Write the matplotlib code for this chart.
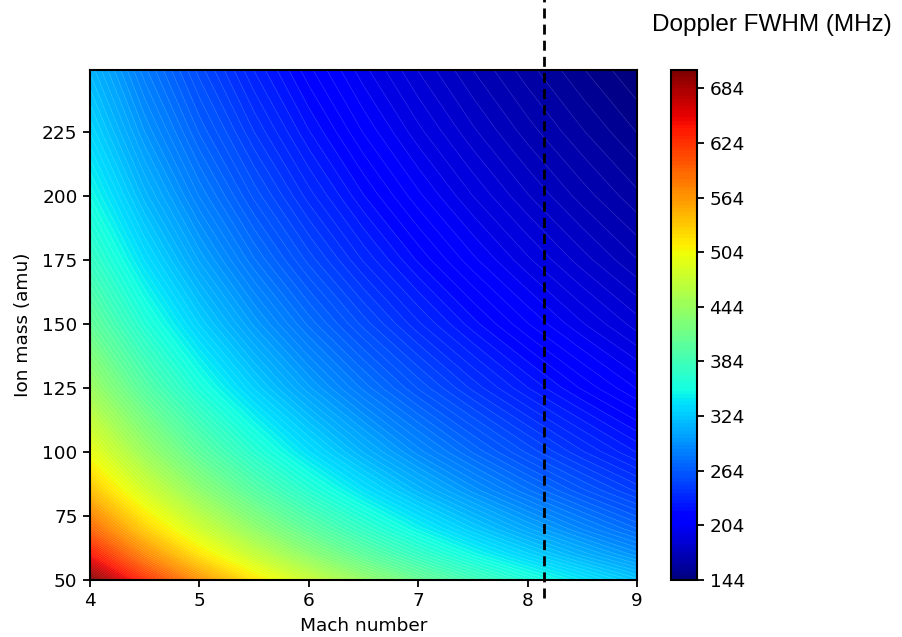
import numpy as np
import matplotlib
matplotlib.use("Agg")
import matplotlib.pyplot as plt

# grid
mach = [4.0, 4.5, 5.0, 5.5, 6.0, 6.5, 7.0, 7.5, 8.0, 8.5, 9.0]
mass = [50, 60, 70, 85, 100, 125, 150, 175, 200, 225, 249]

# Doppler FWHM (MHz), one row per ion mass, one column per Mach number
fwhm = [
    [703.0, 627.6, 567.1, 517.3, 475.8, 440.5, 410.1, 383.8, 360.6, 340.2, 322.0],
    [641.8, 572.9, 517.7, 472.3, 434.3, 402.1, 374.4, 350.3, 329.2, 310.5, 293.9],
    [594.1, 530.4, 479.3, 437.2, 402.1, 372.3, 346.6, 324.3, 304.8, 287.5, 272.1],
    [539.2, 481.4, 434.9, 396.8, 364.9, 337.8, 314.6, 294.3, 276.6, 260.9, 246.9],
    [497.1, 443.8, 401.0, 365.8, 336.4, 311.5, 290.0, 271.4, 255.0, 240.5, 227.7],
    [444.6, 396.9, 358.6, 327.2, 300.9, 278.6, 259.4, 242.7, 228.1, 215.2, 203.6],
    [405.9, 362.4, 327.4, 298.7, 274.7, 254.3, 236.8, 221.6, 208.2, 196.4, 185.9],
    [375.8, 335.5, 303.1, 276.5, 254.3, 235.4, 219.2, 205.1, 192.8, 181.8, 172.1],
    [351.5, 313.8, 283.5, 258.7, 237.9, 220.2, 205.1, 191.9, 180.3, 170.1, 161.0],
    [331.4, 295.9, 267.3, 243.9, 224.3, 207.6, 193.3, 180.9, 170.0, 160.4, 151.8],
    [315.0, 281.2, 254.1, 231.8, 213.2, 197.4, 183.8, 172.0, 161.6, 152.4, 144.3],
]

levels = np.arange(144, 708, 4)
cbar_ticks = np.arange(144, 700, 60)
mach_limit = 8.15

fig = plt.figure(figsize=(9.03, 6.37), dpi=100)
ax = fig.add_axes([0.0997, 0.0895, 0.6057, 0.8006])
cax = fig.add_axes([0.7431, 0.0895, 0.0288, 0.8006])

cs = ax.contourf(mach, mass, fwhm, levels=levels, cmap="jet", antialiased=False)
# faint seams between the filled levels
ax.contour(mach, mass, fwhm, levels=levels, colors="white", linewidths=0.5, alpha=0.18)
ax.set_xlim(4, 9)
ax.set_ylim(50, 249)
ax.set_xticks([4, 5, 6, 7, 8, 9])
ax.set_yticks([50, 75, 100, 125, 150, 175, 200, 225])
ax.set_xlabel("Mach number", fontsize=13.3, labelpad=5)
ax.set_ylabel("Ion mass (amu)", fontsize=13.3, labelpad=7)
ax.tick_params(labelsize=13.3, length=5, width=1.3, pad=4)
for s in ax.spines.values():
    s.set_linewidth(1.5)

# dashed marker, runs past the axes up to the figure top
ax.plot([mach_limit, mach_limit], [43, 280], color="black", lw=2.0,
        linestyle=(0, (3.6, 2.2)), clip_on=False, zorder=5)

cb = fig.colorbar(cs, cax=cax, ticks=cbar_ticks)
cb.ax.tick_params(labelsize=13.3, length=5, width=1.3, pad=4)
cb.outline.set_linewidth(1.5)

fig.text(652 / 903, 1 - 31 / 637, "Doppler FWHM (MHz)", fontsize=17.5,
         family="Liberation Sans", va="baseline", ha="left")

fig.savefig("out.png", dpi=100)
